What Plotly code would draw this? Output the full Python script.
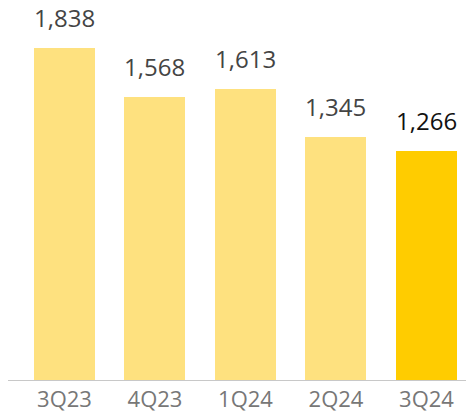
import plotly.graph_objects as go

categories = ["3Q23", "4Q23", "1Q24", "2Q24", "3Q24"]
values = [1838, 1568, 1613, 1345, 1266]
labels = ["1,838", "1,568", "1,613", "1,345", "1,266"]
bar_colors = ["#FEE17F", "#FEE17F", "#FEE17F", "#FEE17F", "#FFCC00"]
label_colors = ["#444444", "#444444", "#444444", "#444444", "#111111"]

x = list(range(len(categories)))

fig = go.Figure()
fig.add_trace(go.Bar(
    x=x, y=values, marker=dict(color=bar_colors, line=dict(width=0)),
    width=0.674, hoverinfo="skip",
))

for i, (v, t, c) in enumerate(zip(values, labels, label_colors)):
    fig.add_annotation(
        x=i, y=v, text=t, showarrow=False, yanchor="bottom", yshift=12,
        font=dict(family="Open Sans", size=24, color=c),
    )

fig.update_layout(
    width=466, height=405,
    margin=dict(l=0, r=0, t=0, b=33, autoexpand=False),
    paper_bgcolor="white", plot_bgcolor="white",
    showlegend=False,
    bargap=0,
)
fig.update_xaxes(
    range=[-0.624, 4.525], tickmode="array", tickvals=x, ticktext=categories,
    showline=True, linecolor="#C8C8C8", linewidth=1,
    showgrid=False, zeroline=False, automargin=False,
    ticks="", tickfont=dict(family="Open Sans", size=22, color="#777777"),
)
fig.update_yaxes(range=[0, 2060], visible=False, showgrid=False, zeroline=False, automargin=False)

fig.write_html("out.html")
